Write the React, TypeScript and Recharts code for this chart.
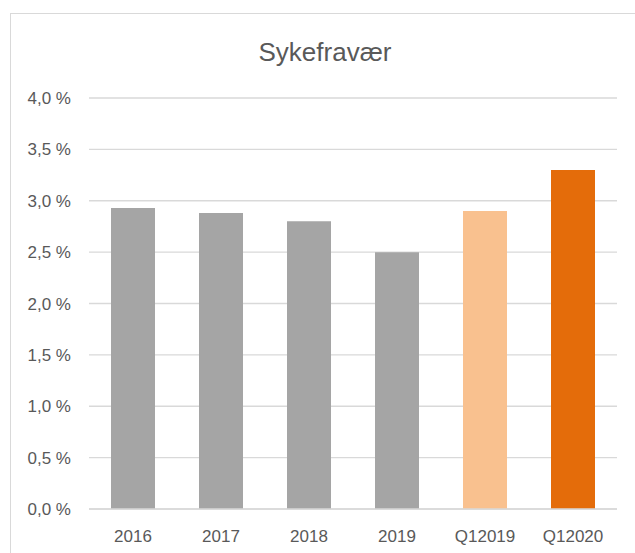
import { BarChart, Bar, XAxis, YAxis, CartesianGrid, Cell } from "recharts";

const categories = ["2016", "2017", "2018", "2019", "Q12019", "Q12020"];
const sickLeave = [2.93, 2.88, 2.8, 2.5, 2.9, 3.3];
const barColors = ["#a5a5a5", "#a5a5a5", "#a5a5a5", "#a5a5a5", "#f9c18f", "#e46c0a"];
const yTicks = [0, 0.5, 1, 1.5, 2, 2.5, 3, 3.5, 4];

const data = categories.map((name, i) => ({ name, value: sickLeave[i] }));

const fmt = (v: number) => v.toFixed(1).replace(".", ",") + " %";

const font = "'Liberation Sans', Arial, sans-serif";

export default function App() {
  return (
    <div
      style={{
        position: "absolute",
        left: 0,
        top: 0,
        width: 635,
        height: 553,
        overflow: "hidden",
        background: "#fff",
        fontFamily: font,
      }}
    >
      <div
        style={{
          position: "absolute",
          left: 10,
          top: 13,
          width: 700,
          height: 700,
          border: "1.5px solid #d9d9d9",
        }}
      />
      <div
        style={{
          position: "absolute",
          left: 0,
          top: 37,
          width: 650,
          textAlign: "center",
          fontSize: 26,
          color: "#595959",
          lineHeight: "30px",
        }}
      >
        Sykefravær
      </div>
      <div style={{ position: "absolute", left: 0, top: 0 }}>
        <BarChart
          width={635}
          height={553}
          data={data}
          margin={{ top: 98, right: 18, left: 0, bottom: 0 }}
        >
          <CartesianGrid vertical={false} stroke="#d9d9d9" strokeWidth={1.3} />
          <XAxis
            dataKey="name"
            height={44}
            axisLine={{ stroke: "#d9d9d9", strokeWidth: 1.3 }}
            tickLine={false}
            tickSize={0}
            tickMargin={21}
            tick={{ fill: "#595959", fontSize: 17, fontFamily: font }}
          />
          <YAxis
            width={89}
            domain={[0, 4]}
            ticks={yTicks}
            tickFormatter={fmt}
            axisLine={false}
            tickLine={false}
            tickSize={0}
            tickMargin={18}
            tick={{ fill: "#595959", fontSize: 17, fontFamily: font }}
          />
          <Bar dataKey="value" barSize={44} isAnimationActive={false}>
            {data.map((d, i) => (
              <Cell key={d.name} fill={barColors[i]} />
            ))}
          </Bar>
        </BarChart>
      </div>
    </div>
  );
}
